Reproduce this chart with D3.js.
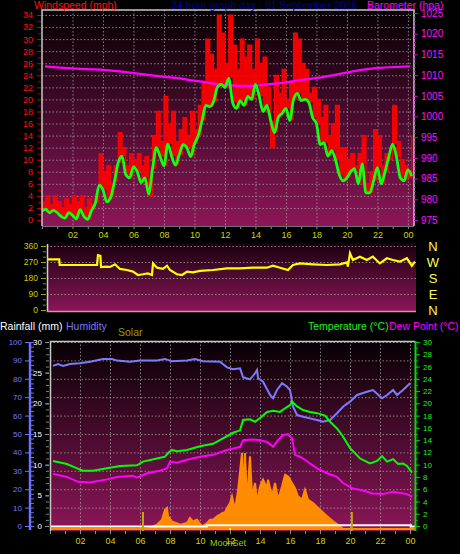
<!DOCTYPE html>
<html><head><meta charset="utf-8">
<script src="https://cdn.jsdelivr.net/npm/d3@7"></script>
<style>body{margin:0;background:#000;} svg{display:block;}</style>
</head><body><svg id="c" width="460" height="554"></svg>
<script>
// ---------- DATA ----------
// wind: samples every 15 min from 00:00
const windTimes = d3.range(0, 24.5, 0.25);
const windAvg = [1.5,1.8,1.2,1.6,1.2,0.6,0.3,1.2,0.8,0.2,
 1.7,0.6,0.1,1.6,2.8,5.8,5,3,3.7,6.3,
 9.5,10.6,7.5,7,8.8,8,6.2,7,4.3,8.5,
 12,10.5,9,12.6,10.6,9.1,10.8,12.5,12,10.5,
 12.6,14,16.5,19,18.8,19.6,22,22.5,22,23.5,
 19.5,18.5,19.8,19,20.5,20,22.5,20.5,18,19,
 16.5,14.5,17,17.7,18.5,16.5,20,21,19.8,20,
 19.5,17,16,12.5,12.8,10.6,11.5,10,7.5,6.5,
 7,8,8.5,6,9.3,4.5,4.5,6.5,8.7,6,
 8,10.5,12.6,10.5,7,6.5,8.3,7.3];
const windGust = [3,4,2.5,4,3,2,3.5,2.5,4,3,
 4,2,3.5,2.5,4,11,8,9,6,9,
 14.5,12,9,11,10,11,9,10.5,4,14,
 18,13,20.5,16,18,13,15,17,14,18,
 15,19,23,30,27.5,25,34,31,26,34,
 29,25,30,27,29,25,30,26,27,22,
 12,24,21,25,20,23,31,30,26,25,
 21,22,20,17,19,14,16,19,12,12,
 10,11,9,11,14,6,8,15,14,9,
 11,10,19,13,10,9,7,14];
const baroTimes = [0.2,1.18,2.49,3.8,5.11,6.43,7.74,9.05,9.7,10.36,11.67,12.98,13.97,14.95,15.93,16.92,18.23,19.54,20.85,21.84,22.82,24.13];
const baroValues = [1012.1,1011.8,1011.5,1011.3,1010.9,1010.3,1009.7,1009.2,1008.8,1008.5,1007.7,1007.4,1007.4,1007.8,1008.2,1008.8,1009.4,1010.3,1011.2,1011.7,1011.9,1012.1];
// wind direction
const dirTimes = [0.26,1.0,1.03,3.48,3.54,3.7,3.74,4.13,4.33,4.66,4.98,5.44,5.84,6.16,6.49,6.82,7.08,7.15,7.41,7.8,8.07,8.26,8.72,9.05,9.38,9.77,10.23,11.08,12,12.85,13.7,14.62,15.02,15.48,16,16.33,16.79,17.64,18.56,19.41,19.87,19.93,20.07,20.26,20.72,21.18,21.57,22.03,22.49,22.89,23.34,23.8,24.13,24.33];
const dirValues = [285,285,253,253,309,305,242,244,242,257,231,225,216,197,201,206,197,262,238,231,249,225,201,197,216,212,220,225,234,234,238,238,249,238,225,253,262,257,253,257,268,244,319,281,300,281,300,262,291,281,272,291,249,272];
const dirLabels = ["N","W","S","E","N"];
// humidity / temperature / dew point / solar / rain
const humTimes = [0.2,0.53,0.87,1.33,2,2.67,3.53,4.13,4.47,5.33,6,7.13,7.67,8.13,9.13,9.67,10.2,11.33,11.8,12.2,12.67,12.87,13.33,13.67,13.8,13.87,14.2,14.67,14.87,15.13,15.47,15.8,16,16.2,16.47,16.87,17.33,17.8,18.2,18.67,19.13,19.53,20,20.47,21.13,21.53,22.13,22.47,22.87,23.13,23.53,24];
const humValues = [87,88,87,88,88.4,89.3,90.8,90.8,89.9,89.3,89.9,89.9,90.8,89.5,89.9,90.8,89.5,89.3,86.2,85.2,85.7,80.8,79.7,83,84.8,80.3,78.4,71.2,69.4,73.9,77.6,75.7,73.9,64.8,60.3,59.4,58.5,57.6,56.7,57.6,61.3,64.8,67.6,71.2,73,73.9,69.4,71.2,73.9,71.2,73.9,77.6];
const tempTimes = [0.2,1.13,1.8,2.2,2.87,3.8,4.67,5.8,6.2,7.13,7.67,7.87,8.13,8.47,9.13,10,10.87,11.53,12.2,12.67,12.87,13.33,13.67,14,14.47,14.87,15.33,15.67,16,16.13,16.47,16.87,17.33,17.8,18.33,18.67,19.13,19.53,20,20.67,21.33,21.8,22.13,22.47,22.87,23.2,23.53,23.8,24.13];
const tempValues = [10.6,10.1,9.4,9,9,9.4,9.8,9.9,10.5,11,11.3,11.9,12.4,12.2,12.4,13,13.4,14.3,15.2,15.6,17.3,17.4,17,17.6,18.6,18.8,18.6,19.2,19.7,20.3,19.5,18.9,18.6,18.4,18,17,15.9,14.6,12.7,11,10.2,10.6,11.4,10.5,10.9,10.1,10.2,9.8,8.7];
const dewTimes = [0.2,1.13,1.87,2.67,3.8,4.47,5.53,5.8,6.47,7.33,7.8,8,8.47,9.13,10,10.87,11.8,12.67,12.87,13.53,14,14.47,14.87,15.2,15.53,15.87,16.13,16.33,16.67,17,17.33,17.8,18.47,19.13,19.53,20.2,20.87,21.53,22.2,22.87,23.33,23.8,24.13];
const dewValues = [8.5,8,7.2,7.1,7.6,8,8.2,7.9,8.6,9,9.4,10.5,10.3,10.8,11.3,11.6,12.4,12.9,14,14.1,14,13.7,12.9,14,14.8,15,14.3,11.6,11.3,10.8,10.2,9.4,8.6,8,7,6.1,5.8,5.3,5.2,5.6,5.4,5.2,4.8];
const solarTimes = [0,6.2,6.67,7.13,7.47,7.67,7.8,7.87,8.13,8.67,9.13,9.33,9.53,9.8,10.13,10.47,10.67,10.87,11.13,11.33,11.47,11.67,11.8,12,12.13,12.33,12.53,12.8,12.87,13,13.13,13.33,13.47,13.67,13.8,14,14.2,14.47,14.53,14.8,15,15.2,15.47,15.67,15.87,16.13,16.33,16.53,16.8,17,17.2,17.53,18,18.47,18.87,19.33,19.53,24.33];
const solarValues = [0,0,7,28,61,126,137,83,50,28,39,72,50,61,17,39,61,61,83,93,104,109,137,170,213,126,246,496,191,496,170,474,213,300,170,278,322,267,322,213,300,191,278,354,343,300,267,213,191,256,191,170,126,83,50,17,0,0];
const rainTimes = [0,10.4,10.45,24.0,24.05,24.33];
const rainValues = [0,0,0.2,0.2,0,0];
const sunEvents = [6.2, 20.12];
const moonSetTime = 12.0;

// ---------- CHART ----------
const FONT = "Arial, 'Liberation Sans', sans-serif";
const svg = d3.select("#c").attr("font-family", FONT);
svg.append("rect").attr("width",460).attr("height",554).attr("fill","#000");
const defs = svg.append("defs");
function grad(id, c0, c1){
  const g = defs.append("linearGradient").attr("id",id).attr("x1",0).attr("y1",0).attr("x2",0).attr("y2",1);
  g.append("stop").attr("offset","0%").attr("stop-color",c0);
  g.append("stop").attr("offset","100%").attr("stop-color",c1);
}
grad("gTop","#060003","#8c1658");
grad("gMid","#1c0010","#8c1658");
grad("gBot","#060003","#8c1658");
const fmtH = h => (h % 2 === 0 && h > 0) ? d3.format("02d")(h % 24) : "";
function styleAxis(g, lineCol, textCol, fs){
  g.attr("font-family", FONT);
  g.select(".domain").remove();
  g.selectAll("line").attr("stroke", lineCol);
  g.selectAll("text").attr("fill", textCol).style("font-size", fs + "px");
}
function gridStyle(g){
  g.select(".domain").remove();
  g.selectAll("text").remove();
  g.selectAll("line").attr("stroke","#a8a8a8").attr("stroke-dasharray","1.5,2").attr("stroke-opacity",0.75);
}

// ===== TOP PANEL =====
const xTop = d3.scaleLinear().domain([0,24.4]).range([42,414]);
const yWind = d3.scaleLinear().domain([0,34]).range([220,15]);
const yBaro = d3.scaleLinear().domain([975,1025]).range([220,13]);
defs.append("clipPath").attr("id","cTop").append("rect").attr("x",42).attr("y",10).attr("width",372).attr("height",216);
svg.append("rect").attr("x",42).attr("y",10).attr("width",372).attr("height",216).attr("fill","url(#gTop)");
svg.append("g").attr("transform","translate(42,0)").call(d3.axisLeft(yWind).tickValues(d3.range(2,35,2)).tickSize(-372)).call(gridStyle);
svg.append("g").attr("transform","translate(0,10)").call(d3.axisTop(xTop).tickValues(d3.range(2,25,2)).tickSize(-216)).call(gridStyle);
const topG = svg.append("g").attr("clip-path","url(#cTop)");
const windData = windTimes.map((t,i)=>({t, a:windAvg[i], g:windGust[i]}));
topG.append("path").datum(windData).attr("fill","#ff0000").attr("fill-opacity",0.92)
  .attr("d", d3.area().x(d=>xTop(d.t)).y0(d=>yWind(d.a)).y1(d=>yWind(d.g)).curve(d3.curveStepAfter));
topG.append("path").datum(windData).attr("fill","none").attr("stroke","#ff0000").attr("stroke-width",1.2)
  .attr("d", d3.line().x(d=>xTop(d.t)).y(d=>yWind(d.g)).curve(d3.curveStepAfter));
topG.append("path").datum(baroTimes.map((t,i)=>({t,v:baroValues[i]}))).attr("fill","none").attr("stroke","#ff00ff").attr("stroke-width",2.2)
  .attr("d", d3.line().x(d=>xTop(d.t)).y(d=>yBaro(d.v)));
topG.append("path").datum(windData).attr("fill","none").attr("stroke","#11ff11").attr("stroke-width",2.8)
  .attr("d", d3.line().x(d=>xTop(d.t)).y(d=>yWind(d.a)).curve(d3.curveMonotoneX));
// border
svg.append("path").attr("d","M42,226V10H414V226").attr("fill","none").attr("stroke","#c8c8c8").attr("stroke-width",1.5);
// axes
svg.append("g").attr("transform","translate(41,0)").call(d3.axisLeft(yWind).tickValues(d3.range(1,34,2)).tickSize(3).tickFormat("")).call(g=>styleAxis(g,"#aa0000","#f00",9));
svg.append("g").attr("transform","translate(41,0)").call(d3.axisLeft(yWind).tickValues(d3.range(0,35,2)).tickSize(4).tickPadding(4)).call(g=>styleAxis(g,"#cc0000","#ff1010",9));
svg.append("g").attr("transform","translate(414,0)").call(d3.axisRight(yBaro).tickValues(d3.range(975,1026,1)).tickSize(2).tickFormat("")).call(g=>styleAxis(g,"#b000b0","#f0f",9));
svg.append("g").attr("transform","translate(414,0)").call(d3.axisRight(yBaro).tickValues(d3.range(975,1026,5)).tickSize(4).tickPadding(3).tickFormat(d3.format("d"))).call(g=>styleAxis(g,"#d000d0","#ff10ff",10));
const xaTop = svg.append("g").attr("transform","translate(0,226)").call(d3.axisBottom(xTop).tickValues(d3.range(0,25,1)).tickSize(3).tickPadding(3).tickFormat(fmtH));
styleAxis(xaTop,"#909090","#d4d400",9);
svg.append("line").attr("x1",42).attr("x2",414).attr("y1",226.5).attr("y2",226.5).attr("stroke","#707070");
// titles
svg.append("text").attr("x",34).attr("y",9).attr("fill","#ff1111").style("font-size","10.5px").text("Windspeed (mph)");
svg.append("text").attr("x",171).attr("y",9).attr("fill","#000099").style("font-size","10.5px").text("24 hour graph day : 01 September 2026");
svg.append("text").attr("x",367).attr("y",9).attr("fill","#ff00ff").style("font-size","10.5px").text("Barometer (hpa)");

// ===== MIDDLE PANEL =====
const xMid = d3.scaleLinear().domain([0,24.4]).range([44,416]);
const yDir = d3.scaleLinear().domain([0,360]).range([310,246]);
defs.append("clipPath").attr("id","cMid").append("rect").attr("x",47).attr("y",244).attr("width",369).attr("height",68);
svg.append("rect").attr("x",47).attr("y",244).attr("width",369).attr("height",68).attr("fill","url(#gMid)");
svg.append("g").attr("transform","translate(47,0)").call(d3.axisLeft(yDir).tickValues([90,180,270,360]).tickSize(-369)).call(gridStyle);
svg.append("g").attr("clip-path","url(#cMid)").append("path")
  .datum(dirTimes.map((t,i)=>({t,v:dirValues[i]}))).attr("fill","none").attr("stroke","#ffff00").attr("stroke-width",2.2)
  .attr("d", d3.line().x(d=>xMid(d.t)).y(d=>yDir(d.v)));
svg.append("line").attr("x1",47.5).attr("x2",47.5).attr("y1",244).attr("y2",312).attr("stroke","#d0d0d0").attr("stroke-width",1.5);
svg.append("line").attr("x1",47).attr("x2",416).attr("y1",311.5).attr("y2",311.5).attr("stroke","#d890b8").attr("stroke-width",1.5);
svg.append("g").attr("transform","translate(46,0)").call(d3.axisLeft(yDir).tickValues(d3.range(0,361,30)).tickSize(3).tickFormat("")).call(g=>styleAxis(g,"#8a8a00","#cc0",8));
svg.append("g").attr("transform","translate(46,0)").call(d3.axisLeft(yDir).tickValues([0,90,180,270,360]).tickSize(5).tickPadding(3)).call(g=>styleAxis(g,"#a0a000","#cccc00",8.5));
svg.append("g").selectAll("text").data(dirLabels).join("text")
  .attr("x",433).attr("y",(d,i)=>yDir(360-i*90)+5).attr("text-anchor","middle")
  .attr("fill","#ffff50").style("font-size","13px").text(d=>d);

// ===== BOTTOM PANEL =====
const xBot = d3.scaleLinear().domain([0,24.33]).range([50,415]);
const yHum = d3.scaleLinear().domain([0,100]).range([526,342]);
const yRain = d3.scaleLinear().domain([0,30]).range([526,342]);
const yTemp = d3.scaleLinear().domain([0,30]).range([526,342]);
const ySolar = d3.scaleLinear().domain([0,1200]).range([529,345]);
defs.append("clipPath").attr("id","cBot").append("rect").attr("x",50).attr("y",341).attr("width",365).attr("height",190);
svg.append("rect").attr("x",50).attr("y",341).attr("width",365).attr("height",190).attr("fill","url(#gBot)");
svg.append("g").attr("transform","translate(50,0)").call(d3.axisLeft(yHum).tickValues(d3.range(10,101,10)).tickSize(-365)).call(gridStyle);
svg.append("g").attr("transform","translate(0,341)").call(d3.axisTop(xBot).tickValues(d3.range(2,25,2)).tickSize(-190)).call(gridStyle);
const botG = svg.append("g").attr("clip-path","url(#cBot)");
botG.append("path").datum(solarTimes.map((t,i)=>({t,v:solarValues[i]}))).attr("fill","#ff8c00").attr("stroke","#ff8c00").attr("stroke-width",2)
  .attr("d", d3.area().x(d=>xBot(d.t)).y0(ySolar(0)).y1(d=>ySolar(d.v)));
botG.append("path").datum(rainTimes.map((t,i)=>({t,v:rainValues[i]}))).attr("fill","none").attr("stroke","#ffffff").attr("stroke-width",2.2)
  .attr("d", d3.line().x(d=>xBot(d.t)).y(d=>yRain(d.v)+0.5).curve(d3.curveStepAfter));
botG.selectAll("line.sun").data(sunEvents).join("line").attr("class","sun")
  .attr("x1",d=>xBot(d)).attr("x2",d=>xBot(d)).attr("y1",512).attr("y2",531).attr("stroke","#c8a400").attr("stroke-width",2);
botG.append("rect").attr("x",xBot(moonSetTime)-1).attr("y",528).attr("width",2).attr("height",2).attr("fill","#ffff00");
botG.append("path").datum(humTimes.map((t,i)=>({t,v:humValues[i]}))).attr("fill","none").attr("stroke","#7b7bff").attr("stroke-width",2)
  .attr("d", d3.line().x(d=>xBot(d.t)).y(d=>yHum(d.v)));
botG.append("path").datum(tempTimes.map((t,i)=>({t,v:tempValues[i]}))).attr("fill","none").attr("stroke","#00ff00").attr("stroke-width",2)
  .attr("d", d3.line().x(d=>xBot(d.t)).y(d=>yTemp(d.v)));
botG.append("path").datum(dewTimes.map((t,i)=>({t,v:dewValues[i]}))).attr("fill","none").attr("stroke","#ff00ff").attr("stroke-width",2)
  .attr("d", d3.line().x(d=>xBot(d.t)).y(d=>yTemp(d.v)));
svg.append("path").attr("d","M50.5,531V341.5H415").attr("fill","none").attr("stroke","#c8c8c8").attr("stroke-width",1.5);
// humidity axis
svg.append("line").attr("x1",30).attr("x2",30).attr("y1",342).attr("y2",530).attr("stroke","#7070ff").attr("stroke-width",2.5);
svg.append("g").attr("transform","translate(31,0)").call(d3.axisRight(yHum).tickValues(d3.range(0,101,2.5)).tickSize(3).tickFormat("")).call(g=>styleAxis(g,"#6868ee","#77f",7));
svg.append("g").attr("transform","translate(29,0)").call(d3.axisLeft(yHum).tickValues(d3.range(0,101,10)).tickSize(4).tickPadding(3)).call(g=>styleAxis(g,"#7070ff","#7878ff",8));
// rain axis
svg.append("g").attr("transform","translate(49,0)").call(d3.axisLeft(yRain).tickValues(d3.range(0,31,1)).tickSize(3).tickFormat("")).call(g=>styleAxis(g,"#808080","#fff",7));
svg.append("g").attr("transform","translate(49,0)").call(d3.axisLeft(yRain).tickValues(d3.range(0,31,5)).tickSize(4).tickPadding(3)).call(g=>styleAxis(g,"#909090","#ffffff",8));
// temperature axis
svg.append("line").attr("x1",415.5).attr("x2",415.5).attr("y1",341).attr("y2",531).attr("stroke","#00dd00").attr("stroke-width",2);
svg.append("g").attr("transform","translate(416,0)").call(d3.axisRight(yTemp).tickValues(d3.range(0,31,1)).tickSize(2).tickFormat("")).call(g=>styleAxis(g,"#00bb00","#0f0",7));
svg.append("g").attr("transform","translate(416,0)").call(d3.axisRight(yTemp).tickValues(d3.range(0,31,2)).tickSize(4).tickPadding(3)).call(g=>styleAxis(g,"#00cc00","#22ee22",8));
// x axis
const xaBot = svg.append("g").attr("transform","translate(0,531)").call(d3.axisBottom(xBot).tickValues(d3.range(0,25,1)).tickSize(3).tickPadding(4).tickFormat(fmtH));
styleAxis(xaBot,"#909090","#d4d400",9);
svg.append("text").attr("x",xBot(moonSetTime)-2).attr("y",546).attr("text-anchor","middle").attr("fill","#9acc00").style("font-size","9px").text("MoonSet");
// headers
svg.append("text").attr("x",0).attr("y",330).attr("fill","#ffffff").style("font-size","10.5px").text("Rainfall (mm)");
svg.append("text").attr("x",66).attr("y",330).attr("fill","#7777ff").style("font-size","10.5px").text("Humidity");
svg.append("text").attr("x",118).attr("y",336).attr("fill","#a09800").style("font-size","10.5px").text("Solar");
svg.append("text").attr("x",308).attr("y",330).attr("fill","#22ee22").style("font-size","10.5px").text("Temperature (°C)");
svg.append("text").attr("x",389).attr("y",330).attr("fill","#ff00ff").style("font-size","10.5px").text("Dew Point (°C)");
</script></body></html>
